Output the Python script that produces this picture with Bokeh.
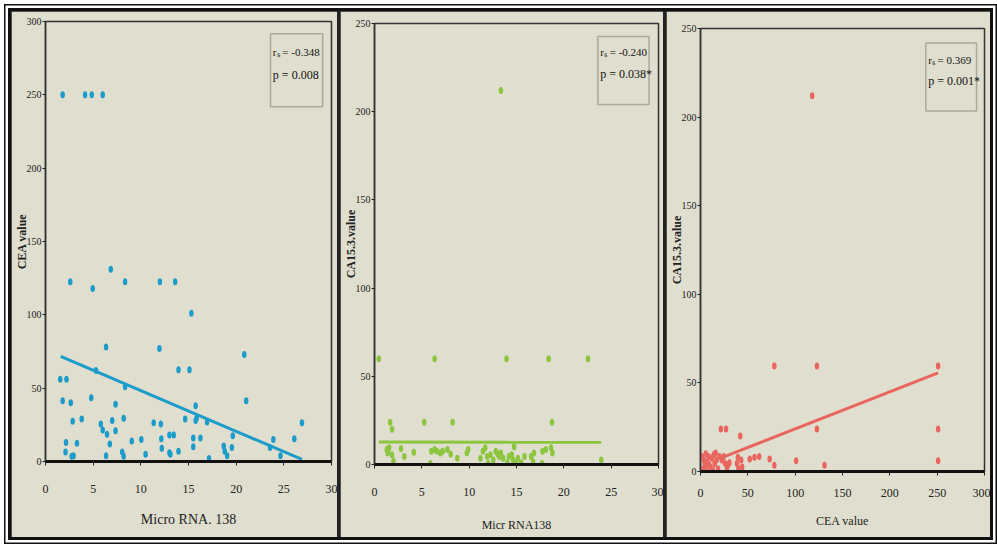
from bokeh.plotting import figure
from bokeh.layouts import row, column
from bokeh.models import Range1d, SingleIntervalTicker, BoxAnnotation, Label
from bokeh.embed import file_html
from bokeh.resources import INLINE

# ---------------- data ----------------
# Panel 1: Micro RNA 138 vs CEA value
mirna_1 = [1.8, 4.15, 4.85, 6.0,
           2.6, 4.95, 6.85, 8.35, 12.0, 13.6, 15.3,
           11.95, 6.35, 13.95, 15.1, 5.3, 20.85, 21.05,
           1.55, 2.2, 1.8, 2.65, 4.8, 8.35, 7.35,
           2.85, 3.8, 5.8, 6.0, 6.45, 7.0, 7.35, 8.2,
           6.75, 2.15, 2.1, 3.3, 2.75, 2.95, 6.35, 8.05, 8.2,
           9.05, 10.05, 10.5, 11.35, 12.1, 12.15, 12.2,
           13.0, 13.45, 13.0, 13.1, 13.95, 14.65,
           15.5, 15.5, 15.75, 15.75, 15.85, 16.25, 16.95, 17.15,
           18.7, 18.8, 19.05, 19.55, 19.65,
           23.55, 23.9, 24.65, 26.1, 26.9]
cea_1 = [250, 250, 250, 250,
         122.5, 118, 131, 122.5, 122.5, 122.5, 101,
         77, 78, 62.5, 62.5, 62, 73, 41.5,
         56, 56, 41.5, 40, 43.5, 51, 39,
         27.5, 29, 25.5, 21.5, 18.5, 28, 21, 29.5,
         12, 13, 6.5, 12.5, 3.5, 4, 4, 6.5, 3.5,
         14, 15, 5, 26.5, 25.5, 15.5, 9,
         18, 18, 6, 5, 7, 29,
         16, 10, 38, 28, 29.5, 16, 27, 2,
         10.5, 7, 4, 9.5, 17.5,
         9.5, 15, 4, 15.5, 26.5]
trend_x_1 = [1.6, 26.9]
trend_y_1 = [71.6, 1.4]
stats_1 = ["r\u209b = -0.348", "p = 0.008"]

# Panel 2: Micro RNA 138 vs CA15.3 value
mirna_2 = [13.35, 0.45, 6.35, 13.95, 18.4, 22.55, 1.65, 1.85, 5.25, 8.25, 18.75, 23.95,
           1.3, 1.4, 1.55, 1.85, 2.0, 2.8, 3.15, 4.15, 5.9, 6.0, 6.35, 6.6, 6.95, 7.2,
           7.7, 8.05, 8.75, 9.75, 9.9, 11.2, 11.45, 11.7, 11.9, 12.0, 12.25, 12.55,
           12.8, 13.0, 13.2, 13.35, 13.6, 14.05, 14.2, 14.5, 14.65, 14.75, 14.95,
           15.15, 15.5, 15.85, 16.55, 16.75, 16.85, 17.7, 17.75, 18.1, 18.65, 18.8]
ca153_2 = [212, 60, 60, 60, 60, 60, 24, 20, 24, 24, 24, 2.5,
           8.5, 6.5, 9.5, 5.5, 2, 9, 4.5, 7, 0.5, 7.5, 8.5, 7.5, 6.5, 7.5,
           8.5, 6, 3.5, 6.5, 8.5, 3.5, 7.5, 9.5, 4.5, 0.5, 5.5, 2.5,
           7.5, 6, 4.5, 6.5, 3.5, 1, 4.5, 5.5, 2.5, 10, 0.5,
           3.5, 1, 4.5, 4.5, 1.5, 6.5, 0.5, 7.5, 8.5, 9.5, 6.5]
trend_x_2 = [0.45, 23.95]
trend_y_2 = [12.8, 12.6]
stats_2 = ["r\u209b = -0.240", "p = 0.038*"]

# Panel 3: CEA value vs CA15.3 value
cea_3 = [118, 78, 123, 251, 123, 251, 251, 21.5, 27, 42, 39.5, 43, 52, 57, 62, 73, 78, 101, 131,
         1.5, 3.5, 4.5, 5.5, 7, 8.5, 10.5, 12, 14, 15, 16, 17, 18.5, 20, 22.5, 24.5,
         26, 28, 29, 30.5, 38.5, 40, 44, 2, 6, 9, 13]
ca153_3 = [212, 59.5, 59.5, 59.5, 24, 24, 6, 24, 24, 20, 8, 6.5, 7, 8, 8.5, 7, 3.5, 6, 3.5,
           8.5, 6.5, 3.5, 10, 5.5, 8.5, 2.5, 7.5, 9.5, 4.5, 10.5, 6.5, 1.5, 8.5, 6.5, 8.5,
           4.5, 1.5, 3.5, 5, 4.5, 1.5, 2.5, 1, 1.5, 4, 1]
trend_x_3 = [24.5, 251]
trend_y_3 = [8.3, 55.6]
stats_3 = ["r\u209b = 0.369", "p = 0.001*"]

# ---------------- style ----------------
BG = "#e0dece"
SERIF = "Liberation Serif"
BLUE = "#1c9cca"
GREEN = "#8cc63f"
RED = "#e9665f"


def make_fig(w, h, xr, yr, xstep, lb, rb, tb, bb, ylabel, xlabel,
             xl_standoff, xlab_standoff, xlab_size):
    p = figure(width=w, height=h, x_range=Range1d(*xr), y_range=Range1d(*yr),
               output_backend="svg", toolbar_location=None, title=None,
               min_border_left=lb, min_border_right=rb, min_border_top=tb, min_border_bottom=bb,
               background_fill_color=BG, border_fill_color=BG,
               outline_line_color="#333333", outline_line_width=1.5)
    p.grid.visible = False
    p.xaxis.ticker = SingleIntervalTicker(interval=xstep)
    p.yaxis.ticker = SingleIntervalTicker(interval=50)
    for ax in (p.xaxis[0], p.yaxis[0]):
        ax.major_tick_in = 0
        ax.minor_tick_in = 0
        ax.minor_tick_out = 0
        ax.major_label_text_font = SERIF
        ax.major_label_text_color = "#222222"
        ax.major_tick_line_color = "#222222"
        ax.axis_label_text_font = SERIF
        ax.axis_label_text_color = "#222222"
    xa = p.xaxis[0]
    xa.axis_line_color = "#111111"
    xa.axis_line_width = 3
    xa.major_tick_out = 4
    xa.major_label_text_font_size = "12px"
    xa.major_label_standoff = xl_standoff
    xa.axis_label = xlabel
    xa.axis_label_text_font_size = xlab_size
    xa.axis_label_text_font_style = "normal"
    xa.axis_label_standoff = xlab_standoff
    ya = p.yaxis[0]
    ya.axis_line_color = "#333333"
    ya.axis_line_width = 1.5
    ya.major_tick_out = 3
    ya.major_label_text_font_size = "10px"
    ya.major_label_standoff = 1
    ya.axis_label = ylabel
    ya.axis_label_text_font_size = "12px"
    ya.axis_label_text_font_style = "bold"
    ya.axis_label_standoff = -5
    return p


def add_stats(p, box, tx, ty1, ty2, lines):
    p.add_layout(BoxAnnotation(left=box[0], right=box[1], top=box[2], bottom=box[3],
                               fill_alpha=0, line_color="#333333", line_width=1.5))
    p.add_layout(Label(x=tx, y=ty1, text=lines[0], text_font=SERIF, text_font_size="11px",
                       text_baseline="top", text_align="left", text_color="#111111"))
    p.add_layout(Label(x=tx, y=ty2, text=lines[1], text_font=SERIF, text_font_size="12px",
                       text_baseline="top", text_align="left", text_color="#111111"))


DOT_W, DOT_H = 4.5, 7

# Panel 1
p1 = make_fig(326, 526, (0, 30), (0, 300), 5, 31, 6, 10, 76, "CEA value", "Micro RNA. 138",
              19, 16, "14px")
p1.ellipse(mirna_1, cea_1, width=DOT_W, height=DOT_H, width_units="screen", height_units="screen",
           fill_color=BLUE, line_color=None)
p1.line(trend_x_1, trend_y_1, line_color=BLUE, line_width=3)
add_stats(p1, (23.6, 29.07, 291.6, 241.8), 23.85, 283.5, 268.3, stats_1)

# Panel 2
p2 = make_fig(323, 526, (0, 30), (0, 250), 5, 29, 5, 12, 73, "CA15.3.value", "Micr RNA138",
              19, 19, "12px")
p2.ellipse(mirna_2, ca153_2, width=DOT_W, height=DOT_H, width_units="screen", height_units="screen",
           fill_color=GREEN, line_color=None)
p2.line(trend_x_2, trend_y_2, line_color=GREEN, line_width=3)
add_stats(p2, (23.6, 29.0, 242.6, 204.1), 23.85, 237.2, 225.6, stats_2)

# Panel 3
p3 = make_fig(324, 526, (0, 300), (0, 250), 50, 32, 6, 17, 66, "CA15.3.value", "CEA value",
              13, 14, "12px")
p3.ellipse(cea_3, ca153_3, width=DOT_W, height=DOT_H, width_units="screen", height_units="screen",
           fill_color=RED, line_color=None)
p3.line(trend_x_3, trend_y_3, line_color=RED, line_width=3)
add_stats(p3, (238, 291.6, 241.8, 203.4), 240.5, 235.8, 224.3, stats_3)

layout = row([column(p1), column(p2), column(p3)], spacing=3,
             styles={"margin": "8px 0 0 8px", "border": "3px solid #111111",
                     "box-shadow": "0 0 0 2.5px #ffffff, 0 0 0 4px #111111",
                     "background-color": "#222222"})

open("out.html", "w").write(file_html(layout, INLINE))
